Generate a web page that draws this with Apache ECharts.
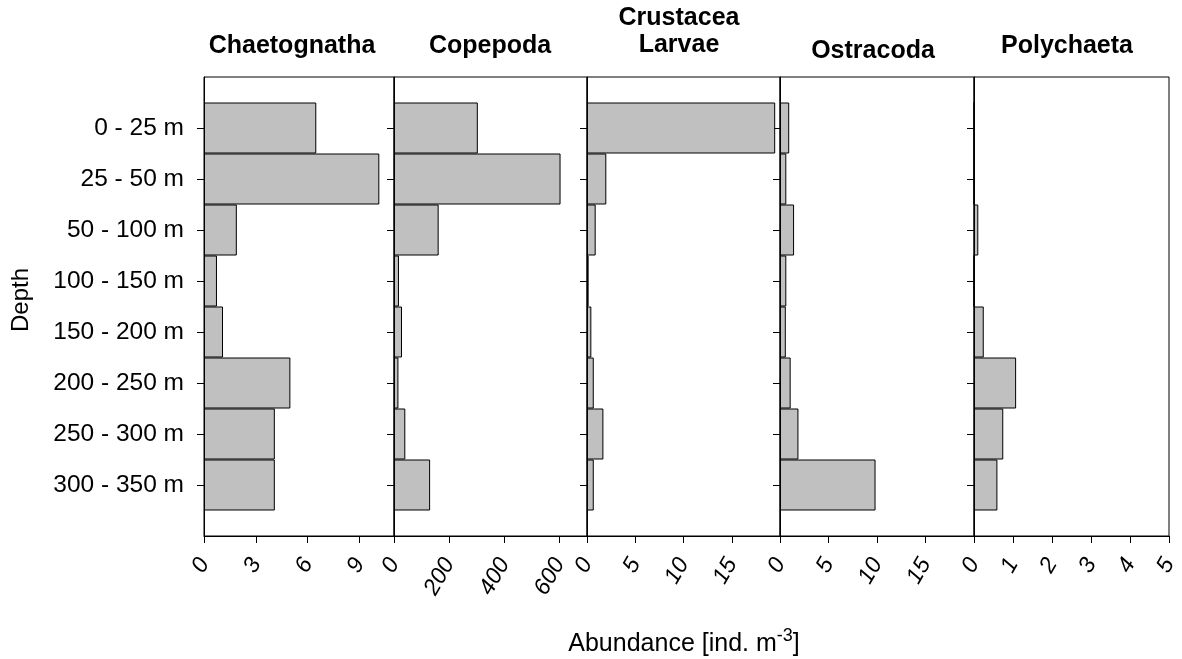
<!DOCTYPE html>
<html>
<head>
<meta charset="utf-8">
<script src="https://cdn.jsdelivr.net/npm/echarts@6/dist/echarts.min.js"></script>
<style>
  html, body { margin: 0; padding: 0; background: #fff; }
  #chart { width: 1182px; height: 659px; }
</style>
</head>
<body>
<div id="chart"></div>
<script>
// Depth strata (top to bottom)
const depthLabels = ['0 - 25 m', '25 - 50 m', '50 - 100 m', '100 - 150 m',
                     '150 - 200 m', '200 - 250 m', '250 - 300 m', '300 - 350 m'];

// Taxon panel headings
const taxa = ['Chaetognatha', 'Copepoda', 'Crustacea\nLarvae', 'Ostracoda', 'Polychaeta'];

// Abundance per depth stratum [ind. m^-3]
const chaetognatha    = [6.5, 10.15, 1.9, 0.75, 1.1, 5.0, 4.1, 4.1];
const copepoda        = [304, 604, 162, 18, 29, 16, 41, 131];
const crustaceaLarvae = [19.5, 2.0, 0.9, 0.17, 0.45, 0.7, 1.7, 0.7];
const ostracoda       = [0.95, 0.65, 1.45, 0.65, 0.6, 1.1, 1.9, 9.85];
const polychaeta      = [0, 0, 0.11, 0, 0.25, 1.08, 0.75, 0.6];

// Abundance axis range and tick step per panel
const axisMax  = [11, 700, 20, 20, 5];
const axisStep = [3, 200, 5, 5, 1];

const seriesValues = [chaetognatha, copepoda, crustaceaLarvae, ostracoda, polychaeta];

// Panel layout (pixels)
const panelLeft  = [204, 394, 587, 780, 974];
const panelRight = [394, 587, 780, 974, 1169];
const panelTop = 77;
const panelHeight = 459;
const FONT = '"Liberation Sans", Arial, Helvetica, sans-serif';

// Depth axis: an empty half-slot above and below the strata
const depthCategories = [''].concat(depthLabels, ['']);

const chart = echarts.init(document.getElementById('chart'), null, { renderer: 'canvas' });

const grid = [], xAxis = [], yAxis = [], series = [];
seriesValues.forEach((vals, i) => {
  grid.push({
    left: panelLeft[i], top: panelTop,
    width: panelRight[i] - panelLeft[i], height: panelHeight,
    show: true, borderColor: '#000', borderWidth: 1, backgroundColor: 'transparent',
    containLabel: false
  });
  xAxis.push({
    type: 'value', gridIndex: i, min: 0, max: axisMax[i], interval: axisStep[i],
    splitLine: { show: false },
    axisLine: { show: true, lineStyle: { color: '#000', width: 1 } },
    axisTick: { show: true, inside: false, length: 7, lineStyle: { color: '#000' } },
    axisLabel: {
      show: true, rotate: 60, margin: 24, color: '#000',
      fontSize: 23, fontFamily: FONT, fontStyle: 'italic',
      showMinLabel: true, showMaxLabel: i === seriesValues.length - 1
    }
  });
  yAxis.push({
    type: 'category', gridIndex: i, data: depthCategories,
    inverse: true, boundaryGap: false,
    axisLine: { show: true, lineStyle: { color: '#000', width: 1 } },
    axisTick: {
      show: true, inside: false, length: 7, lineStyle: { color: '#000' },
      interval: (idx) => idx > 0 && idx < depthCategories.length - 1
    },
    axisLabel: {
      show: i === 0, margin: 20, color: '#000', fontSize: 24.5, fontFamily: FONT,
      interval: 0
    },
    splitLine: { show: false }
  });
  series.push({
    type: 'bar', xAxisIndex: i, yAxisIndex: i,
    data: [null].concat(vals, [null]),
    barCategoryGap: '0%',
    itemStyle: { color: '#c0c0c0', borderColor: '#000', borderWidth: 1 },
    emphasis: { disabled: true },
    silent: true
  });
});

// Panel headings
const headingX = [292, 490, 679, 873, 1067];
const headingY = [46, 46, 32, 51, 46];
const graphic = taxa.map((t, i) => ({
  type: 'text', x: headingX[i], y: headingY[i], silent: true,
  style: {
    text: t, align: 'center', verticalAlign: 'middle',
    fontSize: 25, fontWeight: 'bold', fontFamily: FONT, fill: '#000', lineHeight: 27
  }
}));

// Axis titles
graphic.push({
  type: 'text', x: 21, y: 300, rotation: Math.PI / 2, silent: true,
  style: { text: 'Depth', align: 'center', verticalAlign: 'middle',
           fontSize: 24, fontFamily: FONT, fill: '#000' }
});
graphic.push({
  type: 'text', x: 684, y: 644, silent: true,
  style: {
    text: '{a|Abundance [ind. m}{s|-3}{a|]}',
    align: 'center', verticalAlign: 'middle', fill: '#000',
    rich: {
      a: { fontSize: 25, fontFamily: FONT, lineHeight: 34, fill: '#000' },
      s: { fontSize: 18, fontFamily: FONT, lineHeight: 18, verticalAlign: 'top', fill: '#000' }
    }
  }
});

chart.setOption({
  animation: false,
  backgroundColor: '#fff',
  grid, xAxis, yAxis, series, graphic
});
</script>
</body>
</html>
